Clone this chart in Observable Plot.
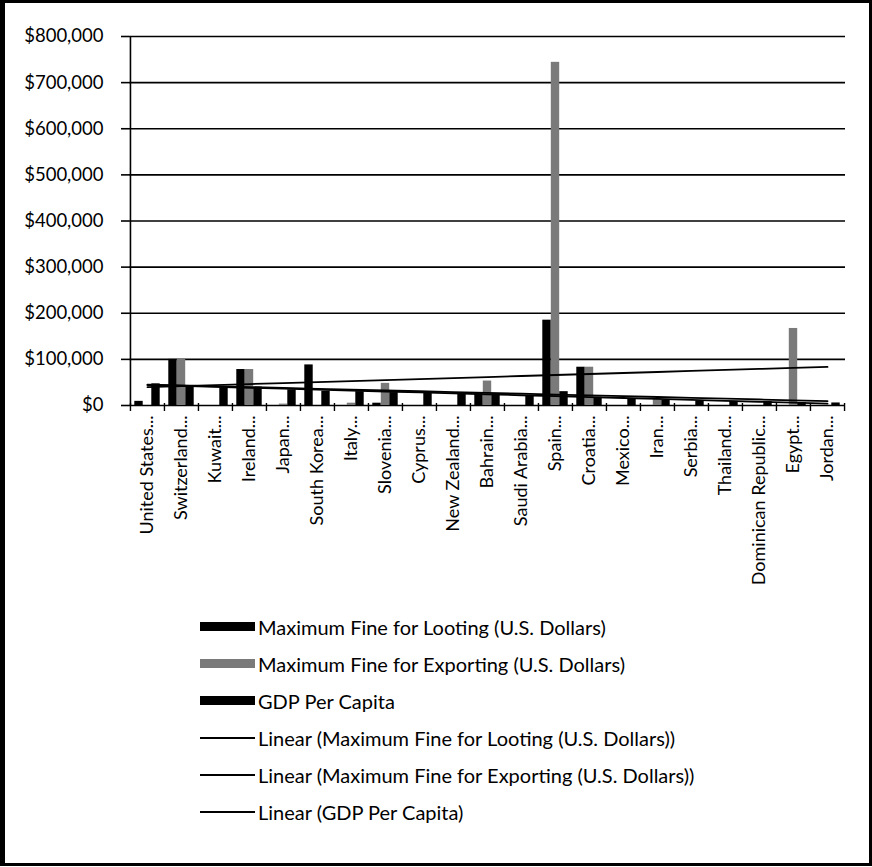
<!DOCTYPE html>
<html>
<head>
<meta charset="utf-8">
<script src="https://cdn.jsdelivr.net/npm/d3@7"></script>
<script src="https://cdn.jsdelivr.net/npm/@observablehq/plot@0.6"></script>
<style>
  body { margin: 0; background: #fff; font-family: Lato, "Open Sans", sans-serif; }
  #frame { position: absolute; left: 0; top: 0; width: 872px; height: 866px; box-sizing: border-box;
           border: 3px solid #000; border-left-width: 5px; }
  #chart { position: absolute; left: 0; top: 0; }
  #legend { position: absolute; left: 200px; top: 608px; }
  .row { display: flex; align-items: center; height: 37px; font-size: 20px; color: #000; }
  .sw { width: 55px; margin-right: 3px; }
  .sw.bar { height: 9px; }
  .sw.line { height: 2px; }
</style>
</head>
<body>
<div id="frame"></div>
<div id="chart"></div>
<div id="legend"></div>
<script>
// Category tick labels (as shown, truncated)
const countries = [
  "United States...", "Switzerland...", "Kuwait...", "Ireland...", "Japan...",
  "South Korea...", "Italy...", "Slovenia...", "Cyprus...", "New Zealand...",
  "Bahrain...", "Saudi Arabia...", "Spain...", "Croatia...", "Mexico...",
  "Iran...", "Serbia...", "Thailand...", "Dominican Republic...", "Egypt...", "Jordan..."
];

// Maximum fine for looting (U.S. dollars)
const looting = [9000, 100000, 0, 78000, 0, 88000, 0, 5000, 0, 0, 26000, 0,
                 185000, 83000, 0, 0, 0, 0, 0, 0, 0];

// Maximum fine for exporting (U.S. dollars)
const exporting = [0, 100000, 0, 78000, 3000, 0, 5000, 48000, 0, 0, 53000, 0,
                   744000, 83000, 0, 15000, 0, 0, 0, 167000, 0];

// GDP per capita
const gdp = [47000, 43000, 41000, 40000, 34000, 31000, 30000, 28000, 27000, 27000, 26000, 22000,
             30000, 18000, 15000, 12000, 10000, 9000, 8500, 6000, 5500];

const seriesNames = [
  "Maximum Fine for Looting (U.S. Dollars)",
  "Maximum Fine for Exporting (U.S. Dollars)",
  "GDP Per Capita"
];

const yTicks = [0, 100000, 200000, 300000, 400000, 500000, 600000, 700000, 800000];

// Least-squares trend over category index, evaluated at every category
function linearTrend(values) {
  const xs = d3.range(values.length);
  const mx = d3.mean(xs), my = d3.mean(values);
  const slope = d3.sum(xs, i => (i - mx) * (values[i] - my)) / d3.sum(xs, i => (i - mx) ** 2);
  return xs.map(i => my + slope * (i - mx));
}

const W = 872, H = 600, mL = 129, mR = 27, mT = 36, mB = 195;
const bw = (W - mL - mR) / countries.length;   // band width
const barW = 8.5;
const pad = (bw - 3 * barW) / 2;
const fills = ["#000", "#7a7a7a", "#000"];
const series = [looting, exporting, gdp];

const bars = series.map((vals, k) =>
  Plot.barY(vals, {
    x: countries, y: d => d, fill: fills[k],
    insetLeft: pad + k * barW, insetRight: bw - pad - (k + 1) * barW
  })
);

const trends = series.map(vals =>
  Plot.lineY(linearTrend(vals), {x: countries, y: d => d, stroke: "#000", strokeWidth: 1.8})
);

const chart = Plot.plot({
  width: W, height: H,
  marginLeft: mL, marginRight: mR, marginTop: mT, marginBottom: mB,
  style: {fontFamily: "Lato, sans-serif", color: "#000", background: "transparent"},
  x: {domain: countries, padding: 0},
  y: {domain: [0, 800000]},
  marks: [
    Plot.gridY(yTicks, {stroke: "#000", strokeOpacity: 1, strokeWidth: 1.6}),
    ...bars,
    ...trends,
    // vertical axis line
    Plot.ruleX([countries[0]], {dx: -bw / 2, stroke: "#000", strokeWidth: 1.6}),
    // category boundary ticks
    Plot.ruleX(countries, {x: d => d, y1: 0, y2: 0, dx: -bw / 2, insetTop: -2, insetBottom: -6, stroke: "#000", strokeWidth: 1.4}),
    Plot.ruleX([countries[countries.length - 1]], {y1: 0, y2: 0, dx: bw / 2, insetTop: -2, insetBottom: -6, stroke: "#000", strokeWidth: 1.4}),
    Plot.axisY({ticks: yTicks, tickSize: 8, tickPadding: 18, tickFormat: d3.format("$,.0f"),
                fontSize: 18.5, label: null, strokeWidth: 1.6}),
    Plot.axisX({tickSize: 0, tickPadding: 10, tickRotate: -90, fontSize: 18, label: null})
  ]
});
document.getElementById("chart").appendChild(chart);

// Legend
const legendEntries = [
  {label: seriesNames[0], kind: "bar", color: fills[0]},
  {label: seriesNames[1], kind: "bar", color: fills[1]},
  {label: seriesNames[2], kind: "bar", color: fills[2]},
  {label: `Linear (${seriesNames[0]})`, kind: "line", color: "#000"},
  {label: `Linear (${seriesNames[1]})`, kind: "line", color: "#000"},
  {label: `Linear (${seriesNames[2]})`, kind: "line", color: "#000"}
];
const legend = document.getElementById("legend");
for (const e of legendEntries) {
  const row = document.createElement("div");
  row.className = "row";
  const sw = document.createElement("div");
  sw.className = "sw " + e.kind;
  sw.style.background = e.color;
  const txt = document.createElement("span");
  txt.textContent = e.label;
  row.appendChild(sw);
  row.appendChild(txt);
  legend.appendChild(row);
}
</script>
</body>
</html>
